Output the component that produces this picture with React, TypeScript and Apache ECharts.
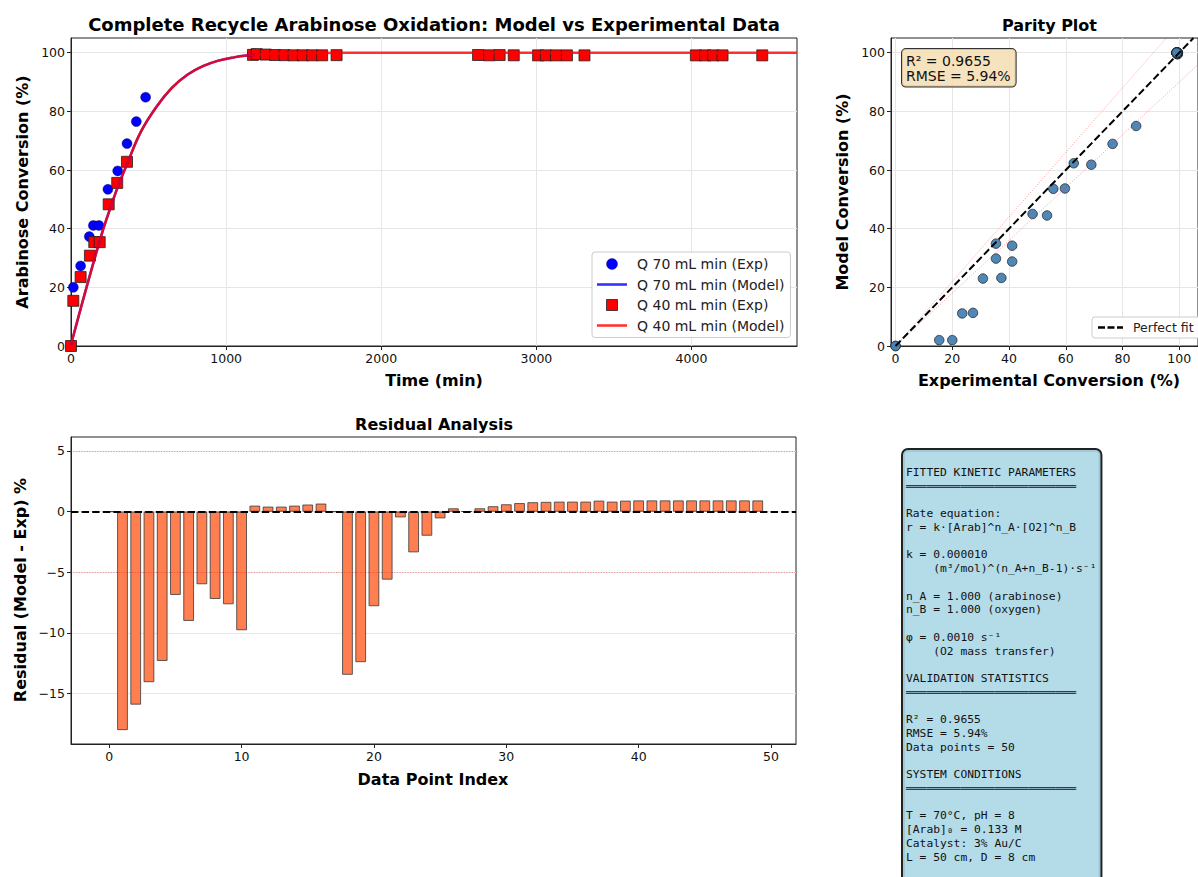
import React, { useEffect, useRef } from 'react';
import * as echarts from 'echarts';

// ---------- DATA ----------
const q70Times = [0, 15, 62, 118, 144, 180, 238, 301, 361, 421, 481, 1170, 1175, 1180, 1185, 1190, 1195];
const q70Exp = [0, 20.0, 27.3, 37.3, 41.1, 41.1, 53.4, 59.7, 69.0, 76.5, 84.8, 99.4, 99.5, 99.5, 99.5, 99.4, 99.3];
const q70Model = [0, 2.0, 11.3, 23.2, 28.8, 34.2, 44.5, 53.7, 61.8, 68.9, 75.0, 99.9, 99.9, 99.95, 100, 100, 100];

const q40Times = [0, 15, 62, 122, 150, 185, 243, 298, 361,
  1173, 1197, 1256, 1316, 1376, 1435, 1495, 1555, 1619, 1712,
  2624, 2696, 2763, 2854,
  3011, 3061, 3126, 3197, 3310,
  4028, 4088, 4140, 4200, 4456];
const q40Exp = [0, 15.4, 23.5, 30.8, 35.4, 35.4, 48.3, 55.6, 62.8,
  99.25, 99.5, 99.35, 99.2, 99.15, 99.1, 99.1, 99.1, 99.1, 99.15,
  99.2, 99.1, 99.18, 99.1,
  99.08, 99.08, 99.08, 99.08, 99.08,
  99.08, 99.08, 99.08, 99.08, 99.08];
const q40Model = [0, 2.0, 11.1, 23.0, 29.8, 34.9, 45.0, 53.6, 62.3,
  99.5, 99.5, 99.6, 99.65, 99.75, 99.8, 99.85, 99.9, 99.9, 99.95,
  100, 100, 100, 100,
  100, 100, 100, 100, 100,
  100, 100, 100, 100, 100];

const q70CurveT = [0, 100, 200, 250, 300, 361, 450, 550, 650, 750, 850, 950, 1050, 1150, 1190];
const q70CurveY = [0.5, 20.0, 38.5, 46.5, 54.0, 62.0, 73.0, 81.5, 88.0, 92.5, 95.4, 97.3, 98.4, 99.1, 99.25];
const q40CurveT = [0, 100, 200, 250, 300, 361, 450, 550, 650, 750, 850, 950, 1050, 1150, 1190, 1300, 1500, 1800, 4680];
const q40CurveY = [0.5, 20.0, 38.5, 46.5, 54.0, 62.0, 73.0, 81.5, 88.0, 92.5, 95.4, 97.3, 98.4, 99.1, 99.25, 99.6, 99.85, 100, 100];

const residuals = [
  0, -18.0, -15.9, -14.05, -12.3, -6.86, -9.0, -5.98, -7.19, -7.63, -9.77,
  0.49, 0.41, 0.41, 0.49, 0.58, 0.66,
  0,
  -13.44, -12.4, -7.79, -5.6, -0.47, -3.35, -1.98, -0.55,
  0.27, 0.02, 0.27, 0.44, 0.6, 0.7, 0.77, 0.8, 0.82, 0.82, 0.82, 0.9, 0.82, 0.9,
  0.92, 0.92, 0.92, 0.92, 0.92, 0.92, 0.92, 0.92, 0.92, 0.92,
];

const perfectFit = [[0, 0], [105, 105]];
const upperBand = [[0, 0], [100, 110]];
const lowerBand = [[0, 0], [110, 99]];
const refLevels = [0, 5, -5];

const timeTicks = [0, 1000, 2000, 3000, 4000];
const convTicks = [0, 20, 40, 60, 80, 100];
const indexTicks = [0, 10, 20, 30, 40, 50];
const residTicks = [-15, -10, -5, 0, 5];

const names = ['Q 70 mL min (Exp)', 'Q 70 mL min (Model)', 'Q 40 mL min (Exp)', 'Q 40 mL min (Model)'];

const statsText = 'R² = 0.9655\nRMSE = 5.94%';
const paramLines = [
  '',
  'FITTED KINETIC PARAMETERS',
  '═════════════════════════',
  '',
  'Rate equation:',
  'r = k·[Arab]^n_A·[O2]^n_B',
  '',
  'k = 0.000010',
  '    (m³/mol)^(n_A+n_B-1)·s⁻¹',
  '',
  'n_A = 1.000 (arabinose)',
  'n_B = 1.000 (oxygen)',
  '',
  'φ = 0.0010 s⁻¹',
  '    (O2 mass transfer)',
  '',
  'VALIDATION STATISTICS',
  '═════════════════════════',
  '',
  'R² = 0.9655',
  'RMSE = 5.94%',
  'Data points = 50',
  '',
  'SYSTEM CONDITIONS',
  '═════════════════════════',
  '',
  'T = 70°C, pH = 8',
  '[Arab]₀ = 0.133 M',
  'Catalyst: 3% Au/C',
  'L = 50 cm, D = 8 cm',
  '',
];

// ---------- HELPERS ----------
const FONT = 'DejaVu Sans';

function axis(gridIndex: number, min: number, max: number, interval: number, ticks: number[], split: boolean, fmt?: (v: number) => string) {
  return {
    type: 'value',
    gridIndex,
    min,
    max,
    interval,
    axisLine: { show: true, onZero: false, lineStyle: { color: '#222', width: 1 } },
    axisTick: { show: true, inside: false, length: 4, customValues: ticks, lineStyle: { color: '#222', width: 1 } },
    axisLabel: {
      color: '#111', fontSize: 12.5, fontFamily: FONT, margin: 6,
      customValues: ticks, showMinLabel: true, showMaxLabel: true, hideOverlap: false,
      formatter: fmt || ((v: number) => String(v)),
    },
    splitLine: { show: split, lineStyle: { color: '#e6e6e6', width: 1 } },
  };
}

function label(text: string, x: number, y: number, size: number, bold: boolean, rotation = 0) {
  return {
    type: 'text', x, y, rotation, silent: true, z: 100,
    style: {
      text, fontSize: size, fontWeight: bold ? 'bold' : 'normal', fontFamily: FONT, fill: '#000',
      align: 'center', verticalAlign: 'middle', textAlign: 'center', textVerticalAlign: 'middle',
    },
  };
}

const minusFmt = (v: number) => (v < 0 ? '\u2212' + Math.abs(v) : String(v));

export default function App() {
  const ref = useRef<HTMLDivElement>(null);
  useEffect(() => {
    document.body.style.margin = '0';
    document.body.style.overflow = 'hidden';
    const chart = echarts.init(ref.current!, null, { renderer: 'svg' });

    const parityData = [
      ...q70Exp.map((e, i) => [e, q70Model[i]]),
      ...q40Exp.map((e, i) => [e, q40Model[i]]),
    ];

    const option = {
      animation: false,
      textStyle: { fontFamily: FONT },
      grid: [
        { left: 71, top: 38, width: 726, height: 308, show: true, borderColor: '#222', borderWidth: 1, containLabel: false },
        { left: 891, top: 38, width: 317, height: 308, show: true, borderColor: '#222', borderWidth: 1, containLabel: false },
        { left: 71, top: 437, width: 725, height: 307, show: true, borderColor: '#222', borderWidth: 1, containLabel: false },
      ],
      xAxis: [
        axis(0, 0, 4680, 1000, timeTicks, true),
        axis(1, -1.6, 106.6, 20, convTicks, true),
        axis(2, -2.89, 51.89, 10, indexTicks, false),
      ],
      yAxis: [
        axis(0, 0, 105, 20, convTicks, true),
        axis(1, 0, 105, 20, convTicks, true),
        axis(2, -19.15, 6.15, 5, residTicks, true, minusFmt),
      ],
      legend: [
        {
          left: 592, top: 252, orient: 'vertical', selectedMode: false,
          itemWidth: 30, itemHeight: 11, itemGap: 6.5,
          padding: [5, 6, 5, 5],
          backgroundColor: '#fff', borderColor: '#cccccc', borderWidth: 1, borderRadius: 3,
          textStyle: { fontSize: 14, color: '#222', fontFamily: FONT, padding: [0, 0, 0, 5] },
          data: [
            { name: names[0], icon: 'circle', itemStyle: { color: '#0000ff', borderColor: 'rgba(0,0,60,0.6)', borderWidth: 0.6, opacity: 1 } },
            { name: names[1], icon: 'path://M0,0h30v2.6h-30z', itemStyle: { color: 'rgba(0,0,255,0.8)', borderWidth: 0 } },
            { name: names[2], icon: 'path://M0,0h10v10h-10z', itemStyle: { color: '#ff0000', borderColor: '#222', borderWidth: 0.8, opacity: 1 } },
            { name: names[3], icon: 'path://M0,0h30v2.6h-30z', itemStyle: { color: 'rgba(255,0,0,0.8)', borderWidth: 0 } },
          ],
        },
        {
          left: 1092, top: 317, orient: 'vertical', selectedMode: false,
          itemWidth: 25, itemHeight: 3,
          padding: [4, 8, 4, 6],
          backgroundColor: '#fff', borderColor: '#cccccc', borderWidth: 1, borderRadius: 3,
          textStyle: { fontSize: 12.5, color: '#222', fontFamily: FONT, padding: [0, 0, 0, 5] },
          data: [
            { name: 'Perfect fit', icon: 'path://M0,0h7v2.5h-7z M9.5,0h7v2.5h-7z M19,0h6v2.5h-6z', itemStyle: { color: '#000', borderWidth: 0 } },
          ],
        },
      ],
      series: [
        {
          name: names[0], type: 'scatter', xAxisIndex: 0, yAxisIndex: 0, z: 2,
          symbol: 'circle', symbolSize: 10,
          itemStyle: { color: '#0000ff', borderColor: 'rgba(0,0,60,0.6)', borderWidth: 0.6, opacity: 1 },
          data: q70Times.map((t, i) => [t, q70Exp[i]]),
        },
        {
          name: names[1], type: 'line', xAxisIndex: 0, yAxisIndex: 0, z: 3,
          smooth: 0.4, showSymbol: false, symbol: 'none',
          itemStyle: { color: 'rgba(0,0,255,0.8)' },
          lineStyle: { color: 'rgba(0,0,255,0.8)', width: 2.5 },
          data: q70CurveT.map((t, i) => [t, q70CurveY[i]]),
        },
        {
          name: names[2], type: 'scatter', xAxisIndex: 0, yAxisIndex: 0, z: 2,
          symbol: 'rect', symbolSize: 11,
          itemStyle: { color: '#ff0000', borderColor: '#222', borderWidth: 0.8, opacity: 1 },
          data: q40Times.map((t, i) => [t, q40Exp[i]]),
        },
        {
          name: names[3], type: 'line', xAxisIndex: 0, yAxisIndex: 0, z: 3,
          smooth: 0.4, showSymbol: false, symbol: 'none',
          itemStyle: { color: 'rgba(255,0,0,0.8)' },
          lineStyle: { color: 'rgba(255,0,0,0.8)', width: 2.5 },
          data: q40CurveT.map((t, i) => [t, q40CurveY[i]]),
        },
        {
          name: 'Parity', type: 'scatter', xAxisIndex: 1, yAxisIndex: 1, z: 2,
          symbol: 'circle', symbolSize: 9.5,
          itemStyle: { color: '#4682B4', borderColor: '#222', borderWidth: 0.8, opacity: 0.95 },
          data: parityData,
        },
        {
          name: 'Perfect fit', type: 'line', xAxisIndex: 1, yAxisIndex: 1, z: 4,
          showSymbol: false, symbol: 'none',
          itemStyle: { color: '#000' },
          lineStyle: { color: '#000', width: 2, type: [7.4, 3.2] },
          data: perfectFit,
        },
        {
          name: 'upper', type: 'line', xAxisIndex: 1, yAxisIndex: 1, z: 3,
          showSymbol: false, symbol: 'none', clip: true,
          lineStyle: { color: 'rgba(255,0,0,0.4)', width: 1, type: [1, 1.65] },
          data: upperBand,
        },
        {
          name: 'lower', type: 'line', xAxisIndex: 1, yAxisIndex: 1, z: 3,
          showSymbol: false, symbol: 'none', clip: true,
          lineStyle: { color: 'rgba(255,0,0,0.4)', width: 1, type: [1, 1.65] },
          data: lowerBand,
        },
        {
          name: 'Residuals', type: 'bar', xAxisIndex: 2, yAxisIndex: 2, z: 2,
          barWidth: 10.6,
          itemStyle: { color: '#FF7F50', borderColor: '#3a3a3a', borderWidth: 0.8 },
          data: residuals.map((r, i) => [i, r]),
          markLine: {
            silent: true, symbol: ['none', 'none'], label: { show: false }, animation: false,
            data: refLevels.map((lv) => ({
              yAxis: lv,
              lineStyle: lv === 0
                ? { color: '#000', width: 2, type: [7.4, 3.2] }
                : { color: 'rgba(255,0,0,0.55)', width: 0.8, type: [1, 1.65] },
            })),
          },
        },
      ],
      graphic: [
        label('Complete Recycle Arabinose Oxidation: Model vs Experimental Data', 434, 24, 18, true),
        label('Parity Plot', 1049.5, 25, 16, true),
        label('Residual Analysis', 434, 424, 16, true),
        label('Time (min)', 434, 380, 16, true),
        label('Arabinose Conversion (%)', 22, 192, 16, true, Math.PI / 2),
        label('Experimental Conversion (%)', 1049, 380, 16, true),
        label('Model Conversion (%)', 842, 192, 16, true, Math.PI / 2),
        label('Data Point Index', 433, 779, 16, true),
        label('Residual (Model - Exp) %', 20, 590, 16, true, Math.PI / 2),
        {
          type: 'text', x: 902, y: 49, z: 100, silent: true,
          style: {
            text: statsText, fontSize: 14, fontFamily: FONT, fill: '#111', lineHeight: 15.3,
            backgroundColor: 'rgba(245,222,179,0.85)', borderColor: '#333', borderWidth: 1, borderRadius: 4,
            padding: [4, 5, 3, 4],
          },
        },
        {
          type: 'text', x: 903, y: 450, z: 100, silent: true,
          style: {
            text: paramLines.join('\n'), fontSize: 11.3, fontFamily: 'DejaVu Sans Mono', fill: '#111', lineHeight: 13.73,
            backgroundColor: 'rgba(173,216,230,0.92)', borderColor: '#222', borderWidth: 2, borderRadius: 5,
            padding: [2, 4, 30, 3],
          },
        },
      ],
    };

    chart.setOption(option as any);
    return () => chart.dispose();
  }, []);
  return <div ref={ref} style={{ width: 1198, height: 877 }} />;
}
